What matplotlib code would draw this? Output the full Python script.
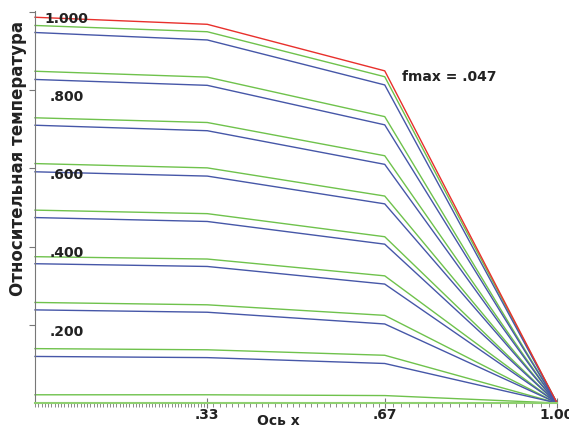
import numpy as np
import matplotlib.pyplot as plt

plt.rcParams["font.family"] = ["DejaVu Sans"]

# mesh nodes along the x axis
x_nodes = [0.0, 0.33, 0.67, 1.0]

# red line (maximum)
red_values = [0.986, 0.968, 0.849, 0.0]

# green and blue families, top to bottom
green_values = [
    [0.965, 0.949, 0.834, 0.0],
    [0.848, 0.833, 0.732, 0.0],
    [0.729, 0.717, 0.632, 0.0],
    [0.612, 0.601, 0.529, 0.0],
    [0.493, 0.484, 0.425, 0.0],
    [0.374, 0.368, 0.325, 0.0],
    [0.257, 0.251, 0.224, 0.0],
    [0.139, 0.136, 0.122, 0.0],
    [0.021, 0.021, 0.019, 0.0],
]
blue_values = [
    [0.947, 0.928, 0.813, 0.0],
    [0.827, 0.812, 0.711, 0.0],
    [0.710, 0.696, 0.610, 0.0],
    [0.591, 0.580, 0.509, 0.0],
    [0.474, 0.464, 0.406, 0.0],
    [0.356, 0.349, 0.304, 0.0],
    [0.238, 0.232, 0.202, 0.0],
    [0.119, 0.116, 0.101, 0.0],
]

y_ticks = [0.2, 0.4, 0.6, 0.8, 1.0]
y_tick_labels = [".200", ".400", ".600", ".800", "1.000"]
x_ticks = [0.33, 0.67, 1.0]
x_tick_labels = [".33", ".67", "1.00"]

GREEN = "#6fc24c"
BLUE = "#4657a8"
RED = "#e8302c"
TEXT = "#222222"


def main() -> None:
    fig = plt.figure(figsize=(5.69, 4.28), dpi=100)
    ax = fig.add_axes([35 / 569, 1 - 403 / 428, 522 / 569, 392 / 428])

    for g in green_values:
        ax.plot(x_nodes, g, color=GREEN, lw=1.0, clip_on=False)
    for b in blue_values:
        ax.plot(x_nodes, b, color=BLUE, lw=1.0, clip_on=False)
    ax.plot(x_nodes, red_values, color=RED, lw=1.0, clip_on=False)

    ax.set_xlim(0, 1.0)
    ax.set_ylim(0, 1.002)

    for side in ("top", "right"):
        ax.spines[side].set_visible(False)
    ax.spines["left"].set_color("#777777")
    ax.spines["bottom"].set_color("#8fd070")
    ax.spines["bottom"].set_linewidth(1.5)

    # y ticks: labels drawn inside the plot, below each tick
    ax.set_yticks(y_ticks)
    ax.set_yticklabels([])
    ax.tick_params(axis="y", direction="out", length=4, color="#777777")
    for v, lab in zip(y_ticks, y_tick_labels):
        ax.annotate(lab, xy=(0.061, v), xytext=(0, -5), textcoords="offset points",
                    ha="center", va="center", fontsize=10, fontweight="bold",
                    color=TEXT)

    # x ticks: major at mesh nodes, minor at grid points
    ax.set_xticks(x_ticks)
    ax.set_xticklabels(x_tick_labels, fontsize=10, fontweight="bold", color=TEXT)
    minor = np.concatenate([
        np.linspace(0, 0.33, 54),
        np.linspace(0.33, 0.67, 30),
        np.linspace(0.67, 1.0, 22),
    ])
    ax.set_xticks(minor, minor=True)
    ax.tick_params(axis="x", which="major", direction="inout", length=7,
                   color="#777777", pad=0)
    ax.tick_params(axis="x", which="minor", direction="out", length=3,
                   color="#777777", width=0.6)

    fig.text(278 / 569, 1 - 421 / 428, "Ось x", ha="center", va="center",
             fontsize=10, fontweight="bold", color=TEXT)
    fig.text(18 / 569, 1 - 158 / 428, "Относительная температура", rotation=90,
             ha="center", va="center", fontsize=12, fontweight="bold", color=TEXT)

    fig.text(402 / 569, 1 - 77 / 428, "fmax = .047", ha="left", va="center",
             fontsize=10, fontweight="bold", color=TEXT)

    fig.savefig("out.png", dpi=100)


if __name__ == "__main__":
    main()
